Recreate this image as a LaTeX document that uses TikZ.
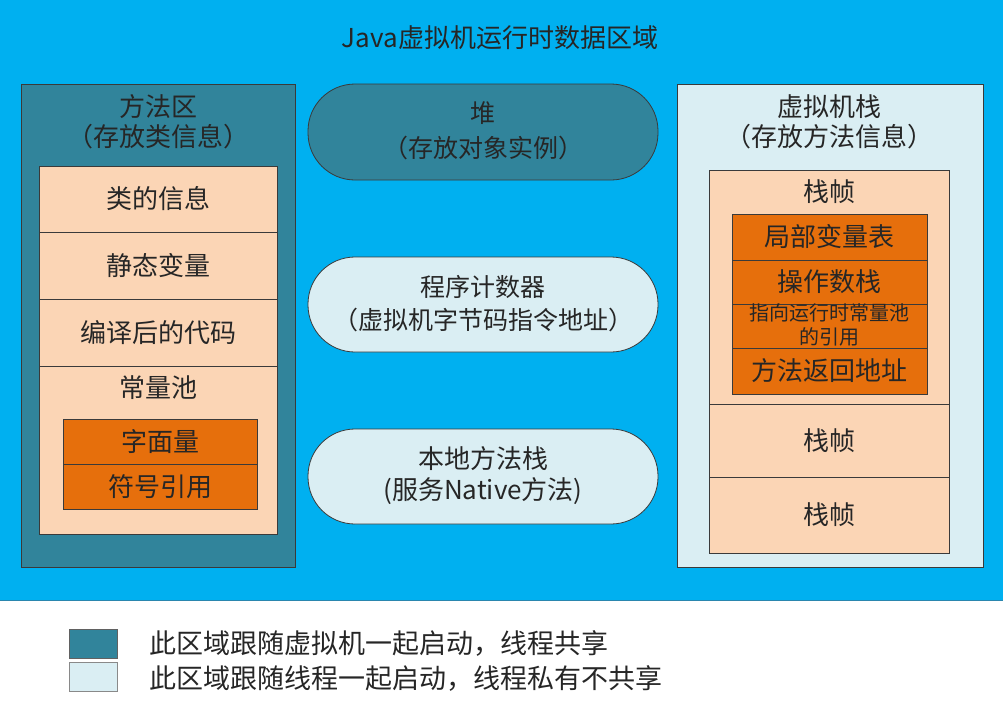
\documentclass[tikz,border=0pt]{standalone}
\usepackage{fontspec}
\setmainfont{Noto Sans CJK SC}
\definecolor{bgblue}{HTML}{00B0F0}
\definecolor{bgline}{HTML}{2A86AE}
\definecolor{tealc}{HTML}{31849B}
\definecolor{lightc}{HTML}{DAEEF3}
\definecolor{peach}{HTML}{FBD5B5}
\definecolor{orangec}{HTML}{E66F0C}
\definecolor{edge}{HTML}{3A3A3A}
\definecolor{txtc}{HTML}{262626}
\begin{document}
\begin{tikzpicture}[x=1pt,y=-1pt,
  rect/.style={draw=edge, line width=0.8pt, inner sep=0, outer sep=0},
  caps/.style={rect, rounded corners=47pt, minimum width=350, minimum height=95},
  txt/.style={text=txtc, font=\fontsize{26}{33}\selectfont, align=center, inner sep=0},
  small/.style={text=txtc, font=\fontsize{20}{24}\selectfont, align=center, inner sep=0}
]
\useasboundingbox (0,0) rectangle (1003,715);
\fill[bgblue] (0,0) rectangle (1003,600);
\fill[white] (0,601) rectangle (1003,715);
\draw[bgline, line width=1.6pt] (0,600.5) -- (1003,600.5);

\node[txt] (title) at (500,38) {Java虚拟机运行时数据区域};

% method area
\node[rect, fill=tealc, minimum width=274, minimum height=483] (ma) at (158,325.5) {};
\node[txt, font=\fontsize{26}{30}\selectfont] (matitle) at (158,122) {方法区\\（存放类信息）};
\node[rect, fill=peach, minimum width=238, minimum height=66] (r1) at (158,199) {};
\node[rect, fill=peach, minimum width=238, minimum height=67] (r2) at (158,265.5) {};
\node[rect, fill=peach, minimum width=238, minimum height=67] (r3) at (158,332.5) {};
\node[rect, fill=peach, minimum width=238, minimum height=168] (r4) at (158,450) {};
\node[txt] (t1) at (r1) {类的信息};
\node[txt] (t2) at (r2) {静态变量};
\node[txt] (t3) at (r3) {编译后的代码};
\node[txt] (t4) at (158,388) {常量池};
\node[rect, fill=orangec, minimum width=194, minimum height=45] (c1) at (160,441.5) {};
\node[rect, fill=orangec, minimum width=194, minimum height=45] (c2) at (160,486.5) {};
\node[txt] (tc1) at (c1) {字面量};
\node[txt] (tc2) at (c2) {符号引用};

% middle capsules
\node[caps, fill=tealc, minimum height=96] (heap) at (483,132) {};
\node[txt, font=\fontsize{25}{35}\selectfont] (heapt) at (483,131) {堆\\（存放对象实例）};
\node[caps, fill=lightc] (pc) at (483,304.5) {};
\node[txt, font=\fontsize{25}{33}\selectfont] (pct) at (483,303.5) {程序计数器\\（虚拟机字节码指令地址）};
\node[caps, fill=lightc] (nat) at (483,476.5) {};
\node[txt, font=\fontsize{26}{31}\selectfont] (natt) at (483,475.5) {本地方法栈\\(服务Native方法)};

% vm stack
\node[rect, fill=lightc, minimum width=306, minimum height=483] (vs) at (830,325.5) {};
\node[txt, font=\fontsize{26}{30}\selectfont] (vst) at (829,121.5) {虚拟机栈\\（存放方法信息）};
\node[rect, fill=peach, minimum width=240, minimum height=234] (f1) at (829,287) {};
\node[rect, fill=peach, minimum width=240, minimum height=73] (f2) at (829,440.5) {};
\node[rect, fill=peach, minimum width=240, minimum height=76] (f3) at (829,515) {};
\node[txt] (f1t) at (829,192) {栈帧};
\node[txt] (f2t) at (f2) {栈帧};
\node[txt] (f3t) at (f3) {栈帧};
\node[rect, fill=orangec, minimum width=195, minimum height=46] (o1) at (829.5,237) {};
\node[rect, fill=orangec, minimum width=195, minimum height=44] (o2) at (829.5,282) {};
\node[rect, fill=orangec, minimum width=195, minimum height=44] (o3) at (829.5,326) {};
\node[rect, fill=orangec, minimum width=195, minimum height=46] (o4) at (829.5,371) {};
\node[txt] (o1t) at (o1) {局部变量表};
\node[txt] (o2t) at (o2) {操作数栈};
\node[small] (o3t) at (829.5,325) {指向运行时常量池\\的引用};
\node[txt] (o4t) at (o4) {方法返回地址};

% legend
\node[rect, draw=edge!80, fill=tealc, minimum width=48, minimum height=29] (lg1) at (93,643.5) {};
\node[rect, draw=edge!60, fill=lightc, minimum width=48, minimum height=29] (lg2) at (93,676.5) {};
\node[txt, anchor=west, font=\fontsize{27}{33}\selectfont] (lg1t) at (149,643) {此区域跟随虚拟机一起启动，线程共享};
\node[txt, anchor=west, font=\fontsize{27}{33}\selectfont] (lg2t) at (149,678) {此区域跟随线程一起启动，线程私有不共享};
\end{tikzpicture}
\end{document}
